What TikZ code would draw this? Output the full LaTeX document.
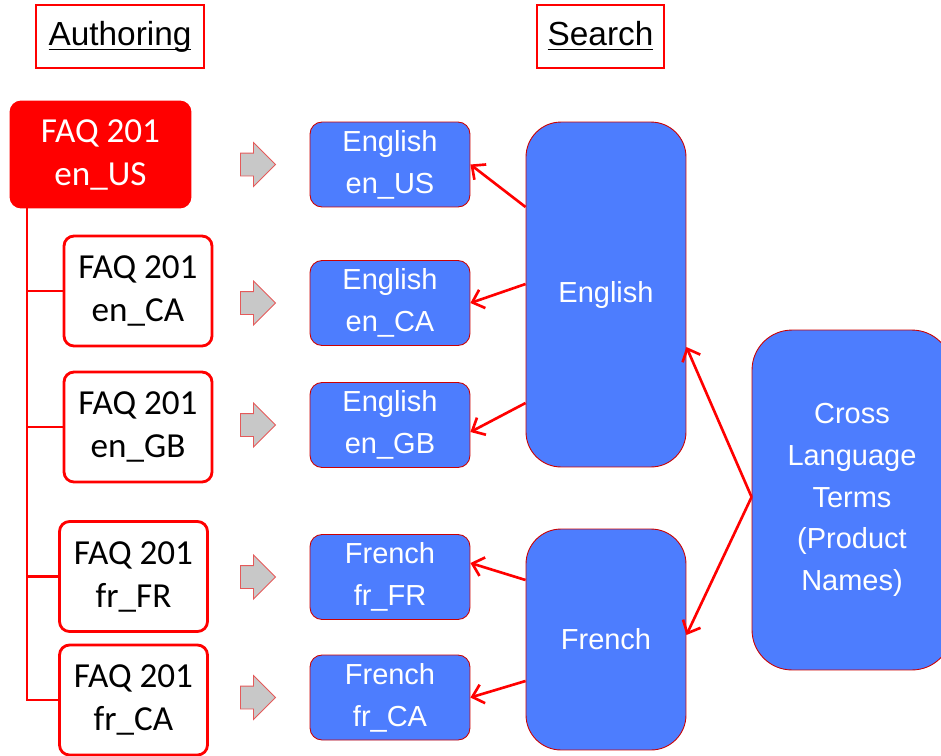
\documentclass[tikz,border=0pt]{standalone}
\usepackage{amsmath}
\usepackage{fontspec}
\setmainfont{Liberation Sans}
\newfontfamily\calfont{Carlito}
\usetikzlibrary{shapes.arrows,arrows.meta}

\definecolor{slideblue}{RGB}{77,125,254}
\definecolor{arrowgray}{RGB}{200,200,200}
\definecolor{arrowedge}{RGB}{228,90,90}

\newcommand{\hdr}[1]{\underline{\smash[b]{#1}}}

\tikzset{
    header/.style={draw=red, line width=0.6pt, minimum height=1.26cm, inner sep=0pt,
        font=\fontsize{19}{22}\selectfont},
    faq/.style={draw=red, line width=1.6pt, fill=white, rounded corners=0.2cm,
        minimum width=2.96cm, minimum height=2.2cm, inner sep=0pt, align=center,
        font=\calfont\fontsize{20}{24.5}\selectfont},
    locbox/.style={draw=red!80!black, line width=0.5pt, fill=slideblue, text=white,
        rounded corners=0.24cm, minimum width=3.2cm, minimum height=1.7cm, inner sep=0pt,
        align=center, font=\fontsize{16.5}{23.8}\selectfont},
    langbox/.style={locbox, rounded corners=0.7cm},
    pusharrow/.style={single arrow, draw=arrowedge, line width=0.5pt, fill=arrowgray,
        inner xsep=0pt, inner ysep=0.22cm, minimum height=0.7cm, anchor=tail,
        single arrow head extend=0.21cm, single arrow head indent=0pt},
    tree/.style={draw=red, line width=1.6pt},
    link/.style={draw=red, line width=1.5pt, -{Straight Barb[length=6pt,width=11pt]}}
}

\begin{document}
\begin{tikzpicture}[x=0.02cm,y=-0.02cm]
    \useasboundingbox (0,0) rectangle (941,755);
    \clip (0,0) rectangle (941,755);
    % Headers
    \node[header, minimum width=3.36cm] (authoring) at (120,36.5) {\hdr{Authoring}};
    \node[header, minimum width=2.54cm] (search) at (600.5,36.5) {\hdr{Search}};
    % Authoring tree
    \node[faq, fill=red, text=white, minimum width=3.58cm, minimum height=2.1cm] (enUS) at (100.5,154.5) {FAQ 201\\en\_US};
    \foreach \n/\x/\y/\loc in {enCA/138/291/en\_CA, enGB/138/427/en\_GB, frFR/133.5/576.5/fr\_FR, frCA/133.5/700/fr\_CA}
        \node[faq] (\n) at (\x,\y) {FAQ 201\\\loc};
    \coordinate (trunk) at (27,207);
    \foreach \n in {enCA,enGB,frFR,frCA}
        \draw[tree] (trunk) |- (\n.west);
    % Gray arrows
    \foreach \n/\y in {pUS/164.5, pCA/303, pGB/425, pFR/577, pFC/697.5}
        \node[pusharrow] (\n) at (240,\y) {};
    % Search results per locale
    \foreach \n/\y/\lang/\loc in {sUS/164.5/English/en\_US, sCA/303/English/en\_CA, sGB/425/English/en\_GB, sFR/577/French/fr\_FR, sFC/697.5/French/fr\_CA}
        \node[locbox] (\n) at (390,\y) {\lang\\\loc};
    % Language boxes
    \node[langbox, minimum height=6.9cm] (english) at (606,294.5) {English};
    \node[langbox, minimum height=4.42cm] (french) at (606,639.5) {French};
    \node[langbox, rounded corners=0.8cm, minimum width=4cm, minimum height=6.8cm] (cross) at (852,500) {Cross\\Language\\Terms\\(Product\\Names)};
    % Links
    \draw[link] ([yshift=1.75cm]english.west) -- (sUS.east);
    \draw[link] ([yshift=0.21cm]english.west) -- (sCA.east);
    \draw[link] ([yshift=-2.17cm]english.west) -- ([yshift=-0.14cm]sGB.east);
    \draw[link] ([yshift=1.19cm]french.west) -- ([yshift=0.28cm]sFR.east);
    \draw[link] ([yshift=-0.83cm]french.west) -- (sFC.east);
    \draw[link] ([yshift=0.06cm]cross.west) -- ([yshift=-1.05cm]english.east);
    \draw[link] ([yshift=0.06cm]cross.west) -- ([yshift=0.09cm]french.east);
\end{tikzpicture}
\end{document}
